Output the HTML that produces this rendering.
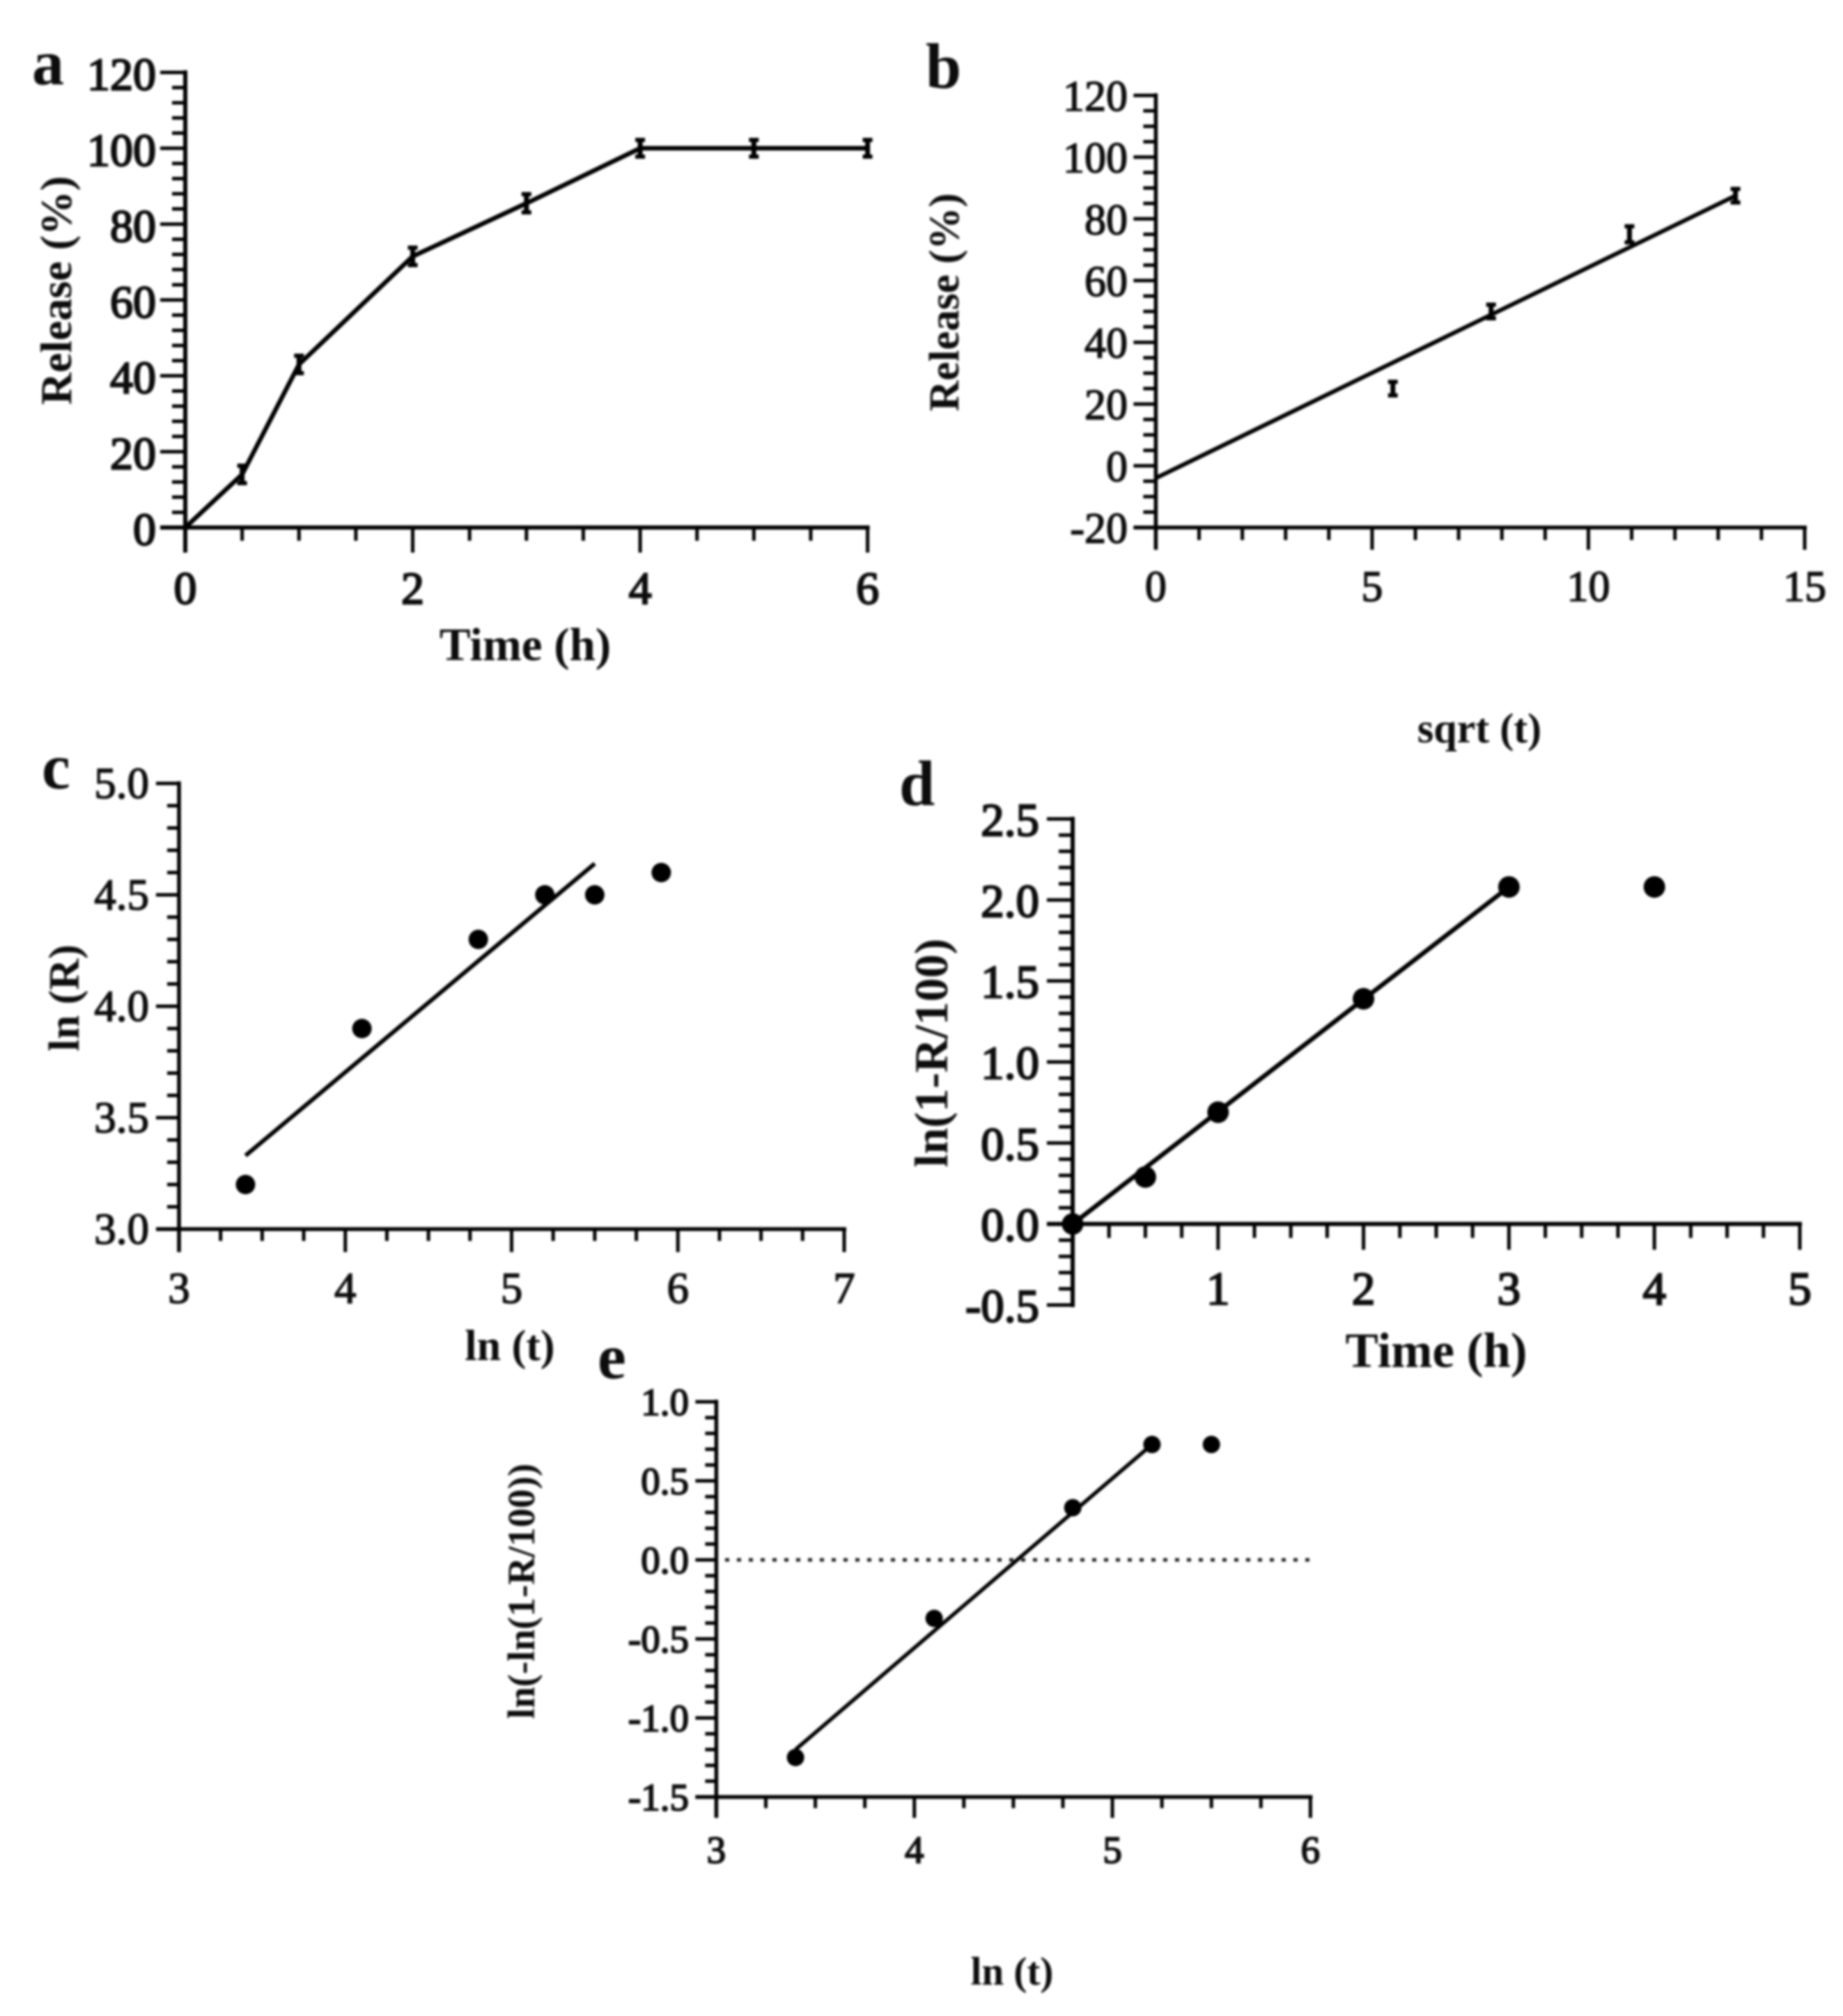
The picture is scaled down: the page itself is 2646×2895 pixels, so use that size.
<!DOCTYPE html>
<html lang="en">
<head>
<meta charset="utf-8">
<title>Release kinetics panels</title>
<style>
html,body{margin:0;padding:0;background:#fff;}
svg{display:block;}
text{font-family:"Liberation Serif",serif;fill:#111;}
</style>
</head>
<body>
<svg id="figure" xmlns="http://www.w3.org/2000/svg" width="2646" height="2895" viewBox="0 0 2646 2895">
<defs><filter id="soft" x="0" y="0" width="100%" height="100%" filterUnits="userSpaceOnUse" primitiveUnits="userSpaceOnUse"><feGaussianBlur stdDeviation="1.5"/></filter></defs>
<rect width="2646" height="2895" fill="#fff"/>
<g id="root" filter="url(#soft)"></g>
</svg>
<script>
// Panel a: cumulative release
const aTime = [0, 0.5, 1, 2, 3, 4, 5, 6];
const aRelease = [0, 14, 43, 71.5, 85.5, 100, 100, 100];
const aError = [0, 2.3, 2.3, 2.3, 2.4, 2.2, 2.2, 2.2];
const aXTicks = [0, 2, 4, 6];
const aYTicks = [0, 20, 40, 60, 80, 100, 120];

// Panel b: Higuchi
const bSqrtT = [5.48, 7.75, 10.95, 13.4];
const bRelease = [25, 50, 75, 87.5];
const bError = [2.2, 2.2, 2.6, 2.2];
const bFitX = [0, 13.4];
const bFitY = [-4, 87.5];
const bXTicks = [0, 5, 10, 15];
const bYTicks = [-20, 0, 20, 40, 60, 80, 100, 120];

// Panel c: ln R vs ln t
const cLnT = [3.4, 4.1, 4.8, 5.2, 5.5, 5.9];
const cLnR = [3.2, 3.9, 4.3, 4.5, 4.5, 4.6];
const cFitX = [3.4, 5.5];
const cFitY = [3.33, 4.64];
const cXTicks = [3, 4, 5, 6, 7];
const cYTicks = ['3.0', '3.5', '4.0', '4.5', '5.0'];

// Panel d: first order
const dTime = [0, 0.5, 1, 2, 3, 4];
const dLn = [0, 0.29, 0.69, 1.39, 2.08, 2.08];
const dFitX = [0, 3];
const dFitY = [0, 2.08];
const dXTicks = [1, 2, 3, 4, 5];
const dYTicks = ['-0.5', '0.0', '0.5', '1.0', '1.5', '2.0', '2.5'];

// Panel e: Weibull
const eLnT = [3.4, 4.1, 4.8, 5.2, 5.5];
const eLnLn = [-1.25, -0.37, 0.33, 0.73, 0.73];
const eFitX = [3.4, 5.2];
const eFitY = [-1.2, 0.73];
const eXTicks = [3, 4, 5, 6];
const eYTicks = ['-1.5', '-1.0', '-0.5', '0.0', '0.5', '1.0'];

const NS = 'http://www.w3.org/2000/svg';
const root = document.getElementById('root');

function svgEl(tag, parent, attrs) {
  const el = document.createElementNS(NS, tag);
  for (const k in attrs) el.setAttribute(k, attrs[k]);
  parent.appendChild(el);
  return el;
}

function line(parent, x1, y1, x2, y2, w) {
  return svgEl('line', parent, {x1: x1, y1: y1, x2: x2, y2: y2, stroke: '#000', 'stroke-width': w});
}

function label(parent, str, x, y, size, weight, anchor, rot, strokeW) {
  const t = svgEl('text', parent, {x: x, y: y, 'font-size': size, 'font-weight': weight, 'text-anchor': anchor});
  if (strokeW) {
    t.setAttribute('stroke', '#111');
    t.setAttribute('stroke-width', strokeW);
  }
  if (rot) t.setAttribute('transform', 'rotate(-90 ' + x + ' ' + y + ')');
  t.textContent = str;
  return t;
}

function panel(cfg) {
  const sx = v => cfg.px0 + (v - cfg.xMin) * (cfg.px1 - cfg.px0) / (cfg.xMax - cfg.xMin);
  const sy = v => cfg.py0 + (v - cfg.yMin) * (cfg.py1 - cfg.py0) / (cfg.yMax - cfg.yMin);
  const g = svgEl('g', root, {});
  
  

  const axes = svgEl('g', g, {});
  
  
  const crossY = sy(cfg.yCross);
  const yAxis = line(axes, cfg.px0, sy(cfg.yMax) - 3, cfg.px0, sy(cfg.yMin) + (cfg.yCross === cfg.yMin ? cfg.major : 3), cfg.axisW);
  
  
  const xAxis = line(axes, cfg.px0 - cfg.major, crossY, cfg.px1 + 3, crossY, cfg.axisW);
  
  

  const xt = cfg.xTicks.map(Number);
  const yt = cfg.yTicks.map(Number);
  const isMajor = (list, v) => list.some(m => Math.abs(m - v) < 1e-6);

  for (let i = 0; cfg.xMin + i * cfg.xMinor <= cfg.xMax + 1e-6; i++) {
    const v = cfg.xMin + i * cfg.xMinor;
    if (Math.abs(v - cfg.xMin) < 1e-6) continue;
    const len = isMajor(xt, v) ? cfg.major : cfg.minor;
    const tick = line(axes, sx(v), crossY, sx(v), crossY + len, cfg.tickW);
    
    
  }
  for (let i = 0; cfg.yMin + i * cfg.yMinor <= cfg.yMax + 1e-6; i++) {
    const v = cfg.yMin + i * cfg.yMinor;
    const len = isMajor(yt, v) ? cfg.major : cfg.minor;
    const tick = line(axes, cfg.px0 - len, sy(v), cfg.px0, sy(v), cfg.tickW);
    
    
  }
  cfg.xTicks.forEach(v => {
    const t = label(axes, String(v), sx(Number(v)), cfg.xLabelY, cfg.tickSize, 'normal', 'middle', false, cfg.tickStroke);
    
    
  });
  cfg.yTicks.forEach(v => {
    const t = label(axes, String(v), cfg.yLabelX, sy(Number(v)) + cfg.yLabelDy, cfg.tickSize, 'normal', 'end', false, cfg.tickStroke);
    
    
  });

  if (cfg.zeroLine) {
    const z = svgEl('line', g, {x1: cfg.zeroLine, y1: sy(0), x2: cfg.px1, y2: sy(0), stroke: '#222', 'stroke-width': 5, 'stroke-dasharray': '6 11'});
    
    
  }

  if (cfg.lineX) {
    const pl = svgEl('polyline', g, {
      points: cfg.lineX.map((x, i) => sx(x) + ',' + sy(cfg.lineY[i])).join(' '),
      fill: 'none', stroke: '#000', 'stroke-width': cfg.lineW, 'stroke-linejoin': 'miter'
    });
    
    
  }

  cfg.xs.forEach((x, i) => {
    const y = cfg.ys[i];
    if (cfg.errs) {
      const e = cfg.errs[i];
      if (!e) return;
      const eb = svgEl('g', g, {});
      
      
      line(eb, sx(x), sy(y - e), sx(x), sy(y + e), cfg.errW);
      line(eb, sx(x) - 7, sy(y + e), sx(x) + 7, sy(y + e), 6);
      line(eb, sx(x) - 7, sy(y - e), sx(x) + 7, sy(y - e), 6);
    } else {
      const dot = svgEl('circle', g, {cx: sx(x), cy: sy(y), r: cfg.r, fill: '#000'});
      
      
    }
  });

  const xTitle = label(g, cfg.xTitle[0], cfg.xTitle[1], cfg.xTitle[2], cfg.xTitle[3], 'bold', 'middle');
  
  
  const yTitle = label(g, cfg.yTitle[0], cfg.yTitle[1], cfg.yTitle[2], cfg.yTitle[3], 'bold', 'middle', true);
  
  
  const letter = label(g, cfg.id, cfg.letter[0], cfg.letter[1], cfg.letter[2], 'bold', 'start');
  
  
}

panel({
  id: 'a', px0: 266, px1: 1245.6, py0: 757.5, py1: 104,
  xMin: 0, xMax: 6, yMin: 0, yMax: 120, yCross: 0, xMinor: 0.5, yMinor: 4,
  xTicks: aXTicks, yTicks: aYTicks, major: 36, minor: 19, axisW: 6, tickW: 5,
  tickSize: 66, tickStroke: 2.4, xLabelY: 867, yLabelX: 224, yLabelDy: 25,
  xs: aTime, ys: aRelease, errs: aError, errW: 7, lineX: aTime, lineY: aRelease, lineW: 6.5,
  xTitle: ['Time (h)', 754, 948, 67], yTitle: ['Release (%)', 102, 417, 64], letter: [46, 121, 92]
});
panel({
  id: 'b', px0: 1659.4, px1: 2591, py0: 757.5, py1: 137,
  xMin: 0, xMax: 15, yMin: -20, yMax: 120, yCross: -20, xMinor: 1, yMinor: 5,
  xTicks: bXTicks, yTicks: bYTicks, major: 32, minor: 18, axisW: 5.5, tickW: 5,
  tickSize: 62, tickStroke: 1.6, xLabelY: 863, yLabelX: 1619, yLabelDy: 22,
  xs: bSqrtT, ys: bRelease, errs: bError, errW: 7, lineX: bFitX, lineY: bFitY, lineW: 6,
  xTitle: ['sqrt (t)', 2124, 1066, 60], yTitle: ['Release (%)', 1376, 434, 61], letter: [1329, 126, 92]
});
panel({
  id: 'c', px0: 257, px1: 1212, py0: 1765, py1: 1125,
  xMin: 3, xMax: 7, yMin: 3, yMax: 5, yCross: 3, xMinor: 0.25, yMinor: 0.1,
  xTicks: cXTicks, yTicks: cYTicks, major: 33, minor: 17, axisW: 5.5, tickW: 5,
  tickSize: 63, tickStroke: 1.6, xLabelY: 1871, yLabelX: 214, yLabelDy: 21,
  xs: cLnT, ys: cLnR, r: 14, lineX: cFitX, lineY: cFitY, lineW: 6,
  xTitle: ['ln (t)', 732, 1953, 62], yTitle: ['ln (R)', 113, 1433, 62], letter: [60, 1132, 92]
});
panel({
  id: 'd', px0: 1540, px1: 2584, py0: 1874, py1: 1176,
  xMin: 0, xMax: 5, yMin: -0.5, yMax: 2.5, yCross: 0, xMinor: 0.25, yMinor: 0.1,
  xTicks: dXTicks, yTicks: dYTicks, major: 37, minor: 20, axisW: 6, tickW: 5,
  tickSize: 67, tickStroke: 2.4, xLabelY: 1873, yLabelX: 1492, yLabelDy: 24,
  xs: dTime, ys: dLn, r: 15.5, lineX: dFitX, lineY: dFitY, lineW: 6.5,
  xTitle: ['Time (h)', 2062, 1963, 71], yTitle: ['ln(1-R/100)', 1360, 1512, 68], letter: [1291, 1156, 92]
});
panel({
  id: 'e', px0: 1028.4, px1: 1881.4, py0: 2580.5, py1: 2013,
  xMin: 3, xMax: 6, yMin: -1.5, yMax: 1, yCross: -1.5, xMinor: 0.25, yMinor: 0.1,
  xTicks: eXTicks, yTicks: eYTicks, major: 30, minor: 16, axisW: 5.5, tickW: 5,
  tickSize: 55, tickStroke: 2, xLabelY: 2675, yLabelX: 989, yLabelDy: 19,
  xs: eLnT, ys: eLnLn, r: 12.5, lineX: eFitX, lineY: eFitY, lineW: 5.5, zeroLine: 1041,
  xTitle: ['ln (t)', 1453, 2850, 57], yTitle: ['ln(-ln(1-R/100))', 767, 2285, 55], letter: [858, 1979, 92]
});
</script>
</body>
</html>
